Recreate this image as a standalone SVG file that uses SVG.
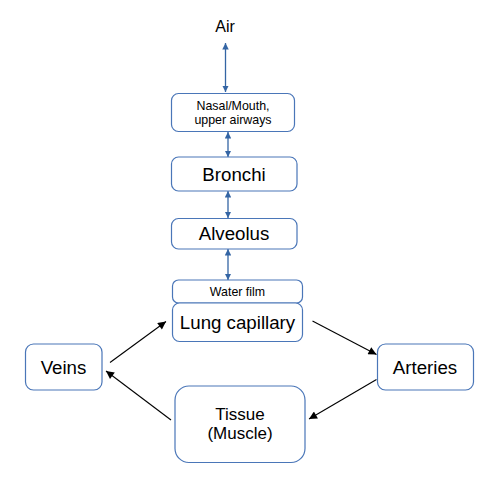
<svg xmlns="http://www.w3.org/2000/svg" width="493" height="501" viewBox="0 0 493 501">
<style>
.box{fill:#fff;stroke:#4a76b8;stroke-width:1.2}
.t{font-family:"Liberation Sans",Arial,sans-serif;fill:#000;text-anchor:middle}
.ba{stroke:#3465a4;stroke-width:1.3;fill:none;marker-start:url(#bs);marker-end:url(#be)}
.ka{stroke:#000;stroke-width:1.1;fill:none;marker-end:url(#ke)}
</style>
<defs>
<marker id="be" viewBox="0 0 10 10" refX="10" refY="5" markerWidth="6.5" markerHeight="6.5" markerUnits="userSpaceOnUse" orient="auto"><path d="M0,0L10,5L0,10z" fill="#3465a4"/></marker>
<marker id="bs" viewBox="0 0 10 10" refX="0" refY="5" markerWidth="6.5" markerHeight="6.5" markerUnits="userSpaceOnUse" orient="auto"><path d="M10,0L0,5L10,10z" fill="#3465a4"/></marker>
<marker id="ke" viewBox="0 0 10 10" refX="10" refY="5" markerWidth="11" markerHeight="8" markerUnits="userSpaceOnUse" orient="auto"><path d="M0,0L10,5L0,10z" fill="#000"/></marker>
</defs>
<g id="connectors">
<line class="ba" x1="225.5" y1="43" x2="225.5" y2="92"/>
<line class="ba" x1="228" y1="132" x2="228" y2="157"/>
<line class="ba" x1="228" y1="191" x2="228" y2="218"/>
<line class="ba" x1="228" y1="249" x2="228" y2="280"/>
<line class="ka" x1="110" y1="362.5" x2="166" y2="321.5"/>
<line class="ka" x1="312.5" y1="321" x2="376.5" y2="354.5"/>
<line class="ka" x1="376.5" y1="379.5" x2="309" y2="419"/>
<line class="ka" x1="171" y1="420" x2="106" y2="371"/>
</g>
<g id="air"><text class="t" x="225" y="32" font-size="16">Air</text></g>
<g id="nasal"><rect class="box" x="171.5" y="93.5" width="123" height="38" rx="7"/>
<text class="t" x="233" y="110" font-size="12.4">Nasal/Mouth,</text>
<text class="t" x="233" y="123.5" font-size="12.4">upper airways</text></g>
<g id="bronchi"><rect class="box" x="171.5" y="157" width="125.5" height="34" rx="7"/>
<text class="t" x="234" y="181" font-size="18.7">Bronchi</text></g>
<g id="alveolus"><rect class="box" x="171.5" y="218.5" width="125.5" height="30.5" rx="7"/>
<text class="t" x="234" y="240" font-size="18.7">Alveolus</text></g>
<g id="waterfilm"><rect class="box" x="172.5" y="280" width="130" height="23" rx="6"/>
<text class="t" x="237.5" y="295.5" font-size="12.4">Water film</text></g>
<g id="lungcap"><rect class="box" x="172.5" y="303" width="130" height="38.5" rx="7"/>
<text class="t" x="237.5" y="329" font-size="18.7">Lung capillary</text></g>
<g id="veins"><rect class="box" x="25.5" y="344" width="76.5" height="46" rx="8"/>
<text class="t" x="63.5" y="373.5" font-size="18.7">Veins</text></g>
<g id="arteries"><rect class="box" x="377.5" y="344" width="96" height="46" rx="8"/>
<text class="t" x="425" y="373.5" font-size="18.7">Arteries</text></g>
<g id="tissue"><rect class="box" x="175" y="386" width="130" height="76.5" rx="14"/>
<text class="t" x="240" y="420" font-size="17">Tissue</text>
<text class="t" x="240" y="439" font-size="17">(Muscle)</text></g>
</svg>
